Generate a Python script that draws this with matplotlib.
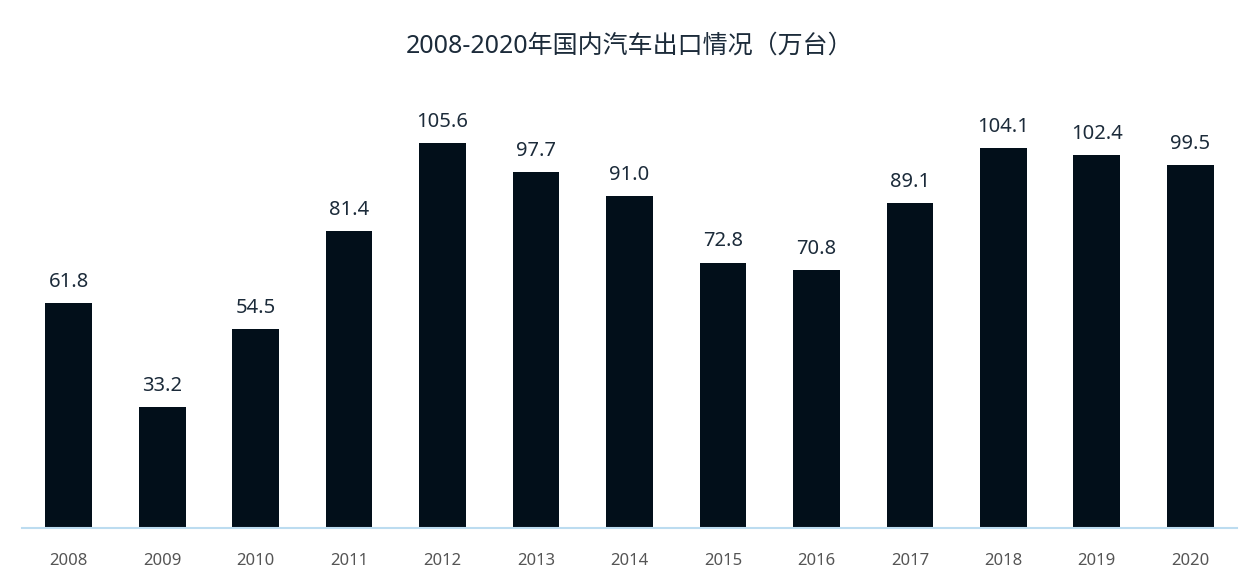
import matplotlib
matplotlib.use("Agg")
import matplotlib.pyplot as plt

plt.rcParams['font.family'] = ['Noto Sans', 'Noto Sans CJK SC', 'DejaVu Sans']

# Data
years = ['2008', '2009', '2010', '2011', '2012', '2013', '2014',
         '2015', '2016', '2017', '2018', '2019', '2020']
exports = [61.8, 33.2, 54.5, 81.4, 105.6, 97.7, 91.0,
           72.8, 70.8, 89.1, 104.1, 102.4, 99.5]

fig = plt.figure(figsize=(12.59, 5.82), dpi=100)
ax = fig.add_axes([22 / 1259, 0.0928, 1215 / 1259, 0.7517])

x = range(len(years))
bars = ax.bar(x, exports, width=0.5, color='#020f1a', zorder=2)

# value labels above bars
for xi, v in zip(x, exports):
    ax.annotate(f'{v:.1f}', (xi, v), xytext=(0, 8), textcoords='offset points',
                ha='center', va='bottom', fontsize=14.5, color='#1c2b3a')

ax.set_xlim(-0.5, 12.5)
ax.set_ylim(0, 120)
ax.set_xticks(list(x))
ax.set_xticklabels(years, fontsize=12, color='#555555')
ax.tick_params(axis='x', length=0, pad=18)
ax.set_yticks([])

for side in ['top', 'right', 'left']:
    ax.spines[side].set_visible(False)
ax.spines['bottom'].set_color('#bcdcf0')
ax.spines['bottom'].set_linewidth(1.5)

fig.text(0.5, 1 - 46 / 582, '2008-2020年国内汽车出口情况（万台）',
         ha='center', va='center', fontsize=18, color='#1c2b3a')

fig.savefig('out.png', dpi=100)
